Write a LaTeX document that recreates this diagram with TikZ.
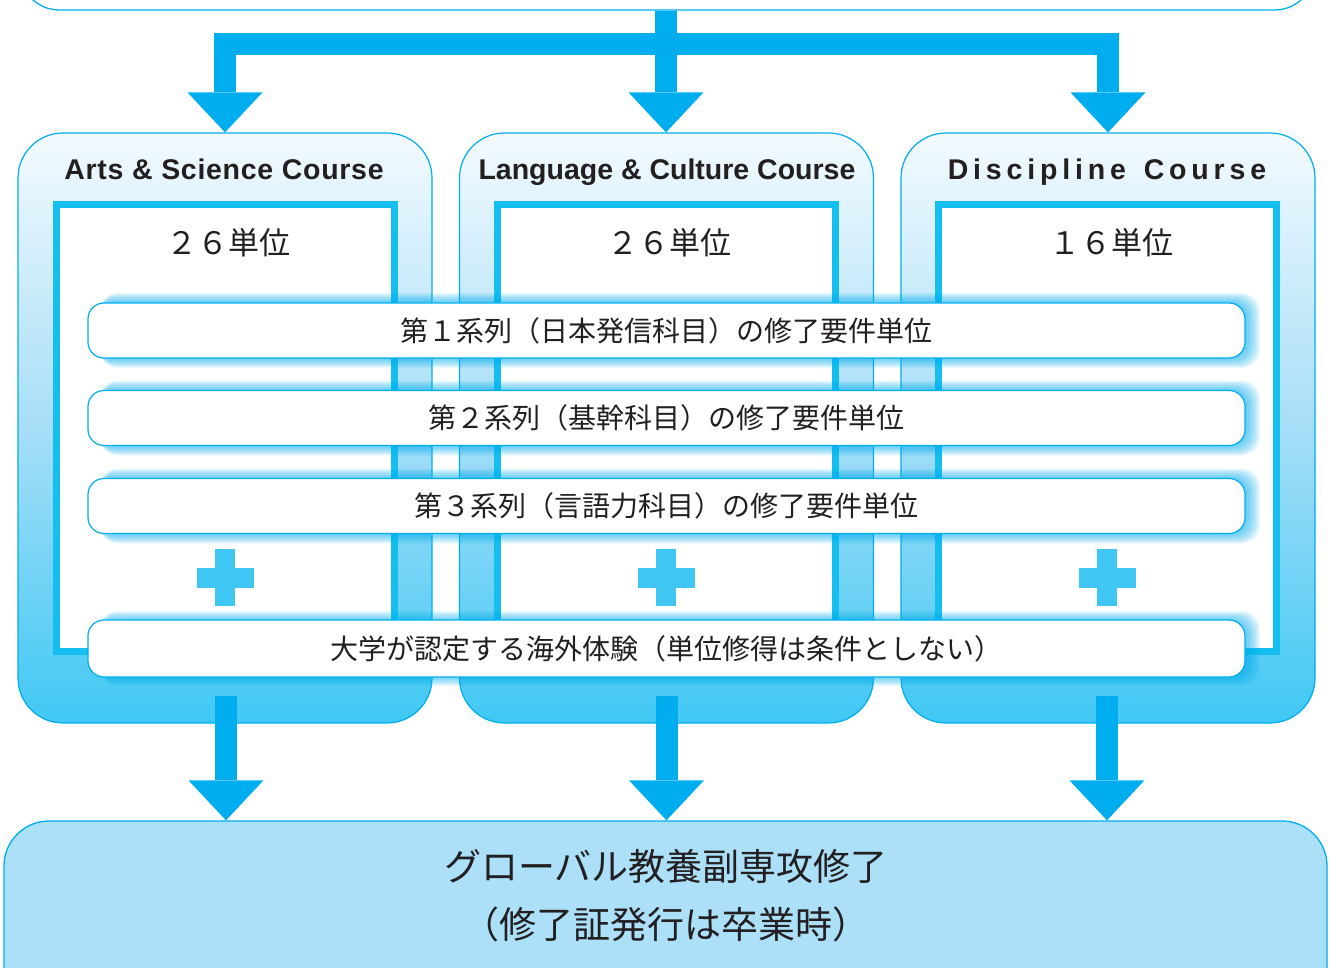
\documentclass[tikz,border=0pt]{standalone}
\usepackage{fontspec}
\setmainfont{Noto Sans CJK JP}
\newfontfamily\jp{Noto Sans CJK JP}
\newfontfamily\latn{Liberation Sans}
\usetikzlibrary{calc,arrows.meta}
\definecolor{cy}{HTML}{00AEEF}
\definecolor{cyin}{HTML}{14BFF0}
\definecolor{plusc}{HTML}{40C6F2}
\definecolor{txt}{HTML}{231F20}
\definecolor{bandtop}{HTML}{F3FAFE}
\definecolor{bandmid}{HTML}{A6DEF7}
\definecolor{bandbot}{HTML}{40C8F4}
\definecolor{finalc}{HTML}{ABE0F8}
\tikzset{
  topbox/.style={draw=cy, line width=1.3pt, fill=white, rounded corners=40pt,
    minimum width=1295pt, minimum height=120pt, inner sep=0pt},
  course/.style={draw=cy, line width=1.2pt, rounded corners=45pt,
    top color=bandtop, bottom color=bandbot, middle color=bandmid,
    minimum width=414pt, minimum height=590pt, inner sep=0pt},
  innerbox/.style={draw=cyin, line width=7pt, fill=white,
    minimum width=338pt, minimum height=447pt, inner sep=0pt},
  rowbox/.style={draw=cy, line width=1.2pt, fill=white, rounded corners=16pt,
    minimum width=1157pt, minimum height=55pt, inner sep=0pt, text=txt,
    font=\jp\fontsize{28}{30}\selectfont},
  glowlayer/.style={fill=cy, fill opacity=0.08, rounded corners=18pt},
  ttl/.style={text=txt, inner sep=0pt, anchor=base, font=\latn\bfseries\fontsize{28.5}{30}\selectfont},
  unit/.style={text=txt, inner sep=0pt, font=\jp\fontsize{31}{33}\selectfont},
  finbox/.style={draw=cy, line width=1.3pt, fill=finalc, rounded corners=45pt,
    minimum width=1323pt, minimum height=200pt, inner sep=0pt},
  fintext/.style={text=txt, inner sep=0pt, font=\jp\fontsize{37}{40}\selectfont},
  barline/.style={draw=cy, line width=22pt, line join=miter},
  arr/.style={draw=cy, line width=22pt, line join=miter,
    -{Triangle[width=75pt,length=40pt,line width=0pt]}},
  plussign/.pic={\fill[plusc] (-10,-28.5) rectangle (10,28.5);
                 \fill[plusc] (-28.5,-10) rectangle (28.5,10);}
}
\begin{document}
\begin{tikzpicture}[x=1pt,y=-1pt]
\useasboundingbox (0,0) rectangle (1331,968);
\clip (0,0) rectangle (1331,968);

% top box
\node[topbox] (top) at (667,-50) {};

% course boxes
\node[course] (arts) at (225,428) {};
\node[course] (lang) at (666.5,428) {};
\node[course] (disc) at (1108,428) {};

% top connectors
\coordinate (hub) at (666,44);
\draw[barline] (top.south -| hub) -- (hub);
\draw[arr] (hub) -| (arts.north);
\draw[arr] (hub) -- (hub |- lang.north);
\draw[arr] (hub) -| (disc.north);

% inner boxes
\node[innerbox] (artsI) at (225.5,428) {};
\node[innerbox] (langI) at (666.5,428) {};
\node[innerbox] (discI) at (1107.5,428) {};

% titles
\node[ttl] (artsT) at (224,180) {\addfontfeature{LetterSpace=2.5}Arts \& Science Course};
\node[ttl] (langT) at (667,180) {Language \& Culture Course};
\node[ttl] (discT) at (1107,180) {\addfontfeature{LetterSpace=17}Discipline\hspace{5pt} Course};

% units
\node[unit] (artsU) at (228,243) {２６単位};
\node[unit] (langU) at (669,243) {２６単位};
\node[unit] (discU) at (1111,243) {１６単位};

% glows behind rows
\foreach \yc in {330.5,418,506,648.5}{
  \foreach \k in {1,...,10}{
    \fill[glowlayer] (96+\k*0.4, \yc-27.5-\k*1.0) rectangle (1246+\k*1.4, \yc+27.5+\k*1.0);
  }
}

% rows
\node[rowbox] (row1) at (666.5,330.5) {第１系列（日本発信科目）の修了要件単位};
\node[rowbox] (row2) at (666.5,418) {第２系列（基幹科目）の修了要件単位};
\node[rowbox] (row3) at (666.5,506) {第３系列（言語力科目）の修了要件単位};
\node[rowbox, minimum height=57pt] (row4) at (666.5,648.5) {大学が認定する海外体験（単位修得は条件としない）};

% plus signs
\pic at (225,577.5) {plussign};
\pic at (666,577.5) {plussign};
\pic at (1107,577.5) {plussign};

% bottom box
\node[finbox] (final) at (665.5,921) {};
\node[fintext] (finA) at (666,866) {グローバル教養副専攻修了};
\node[fintext] (finB) at (666,924) {（修了証発行は卒業時）};

% bottom connectors
\draw[arr] ($(arts.south)+(1,-28)$) -- ($(arts.south |- final.north)+(1,0)$);
\draw[arr] ($(lang.south)+(0,-28)$) -- (lang.south |- final.north);
\draw[arr] ($(disc.south)+(-1,-28)$) -- ($(disc.south |- final.north)+(-1,0)$);
\end{tikzpicture}
\end{document}
